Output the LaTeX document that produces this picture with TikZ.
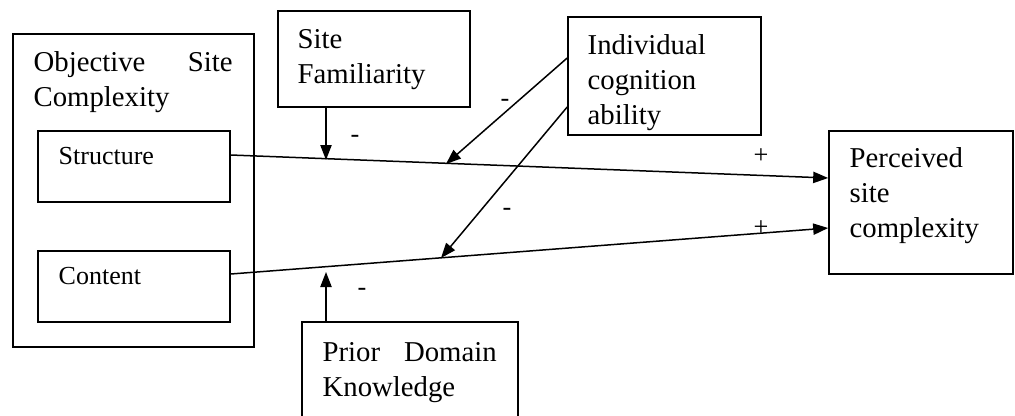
\documentclass[tikz,border=0pt]{standalone}
\usepackage{fontspec}
\setmainfont{Liberation Serif}
\usetikzlibrary{arrows.meta,positioning,fit}

\begin{document}
\begin{tikzpicture}[x=0.4pt,y=-0.4pt,
  box/.style={draw,line width=0.65pt,inner sep=0pt},
  txt/.style={inner sep=0pt,align=left,font=\fontsize{11.5}{14}\selectfont},
  smalltxt/.style={inner sep=0pt,font=\fontsize{10.4}{12}\selectfont},
  sign/.style={inner sep=0pt,font=\fontsize{10.5}{12}\selectfont},
  conn/.style={line width=0.6pt,->,>={Triangle[length=6pt,width=4.5pt]}}]
  \useasboundingbox (0,0) rectangle (1015,415);
  % define the coordinates
  \coordinate (osc1) at (13,34);   \coordinate (osc2) at (254,347);
  \coordinate (str1) at (38,131);  \coordinate (str2) at (230,202);
  \coordinate (con1) at (38,251);  \coordinate (con2) at (230,322);
  \coordinate (fam1) at (278,11);  \coordinate (fam2) at (470,107);
  \coordinate (ica1) at (568,17);  \coordinate (ica2) at (761,135);
  \coordinate (psc1) at (829,131); \coordinate (psc2) at (1013,274);
  \coordinate (pdk1) at (302,322); \coordinate (pdk2) at (518,440);
  % draw the boxes
  \node (osc) [box, fit=(osc1)(osc2)] {};
  \node (struct) [box, fit=(str1)(str2)] {};
  \node (content) [box, fit=(con1)(con2)] {};
  \node (fam) [box, fit=(fam1)(fam2)] {};
  \node (ica) [box, fit=(ica1)(ica2)] {};
  \node (psc) [box, fit=(psc1)(psc2)] {};
  \node (pdk) [box, fit=(pdk1)(pdk2)] {};
  % the texts
  \node (osc-t) [txt, text width=79.6pt, below right=7pt and 8.4pt of osc.north west] {Objective\hfill Site\\Complexity};
  \node (struct-t) [smalltxt, anchor=north west, below right=6.8pt and 8.4pt of struct.north west] {Structure};
  \node (content-t) [smalltxt, anchor=north west, below right=6.8pt and 8.4pt of content.north west] {Content};
  \node (fam-t) [txt, below right=7.4pt and 8pt of fam.north west] {Site\\Familiarity};
  \node (ica-t) [txt, below right=7pt and 8pt of ica.north west] {Individual\\cognition\\ability};
  \node (psc-t) [txt, below right=6.8pt and 8.4pt of psc.north west] {Perceived\\site\\complexity};
  \node (pdk-t) [txt, text width=69.6pt, below right=8.2pt and 8.4pt of pdk.north west] {Prior\hfill Domain\\Knowledge};
  % draw the arrows
  \coordinate (m1) at (326,160);
  \coordinate (m2) at (446,164);
  \coordinate (m3) at (441,258);
  \coordinate (m4) at (326,272);
  \draw[conn] (struct.east |- 0,155) -- (psc.west |- 0,178);
  \draw[conn] (content.east |- 0,274) -- (psc.west |- 0,228);
  \draw[conn] (fam.south -| m1) -- (m1);
  \draw[conn] (pdk.north -| m4) -- (m4);
  \draw[conn] (ica.west |- 0,58) -- (m2);
  \draw[conn] (ica.west |- 0,107) -- (m3);
  % signs
  \node (n1) [sign] at (355,139) {-};
  \node (n2) [sign] at (505,103) {-};
  \node (n3) [sign] at (507,212) {-};
  \node (n4) [sign] at (362,292) {-};
  \node (p1) [sign] at (761,156) {+};
  \node (p2) [sign] at (761,228) {+};
\end{tikzpicture}
\end{document}
